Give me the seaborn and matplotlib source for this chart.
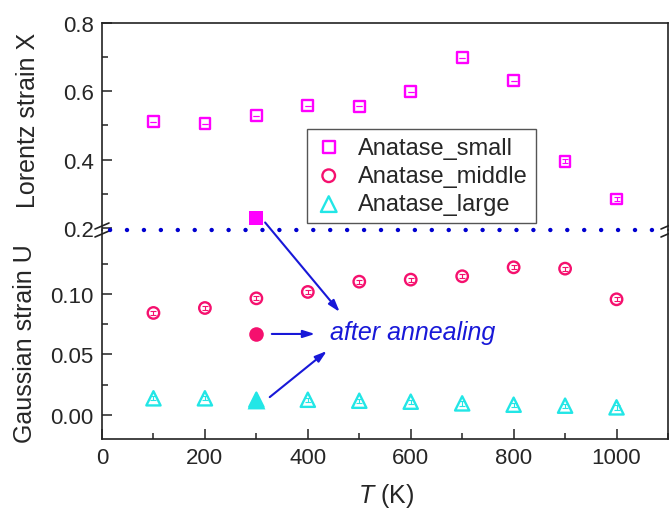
import numpy as np
import pandas as pd
import matplotlib
matplotlib.use("Agg")
import matplotlib.pyplot as plt
import seaborn as sns
from matplotlib.ticker import MultipleLocator, FixedLocator

# ---------------- data ----------------
T = [100, 200, 300, 400, 500, 600, 700, 800, 900, 1000]
lorentz_small = [0.511, 0.505, 0.529, 0.558, 0.556, 0.599, 0.698, 0.631, 0.395, 0.285]
lorentz_small_err = [0.0, 0.0, 0.0, 0.0, 0.0, 0.0, 0.0, 0.0, 0.006, 0.006]
gauss_middle = [0.0843, 0.0884, 0.0964, 0.1017, 0.1102, 0.1119, 0.1147, 0.1221, 0.1210, 0.0956]
gauss_middle_err = [0.0016] * 10
gauss_large = [0.0136, 0.0136, 0.0124, 0.0124, 0.0116, 0.0108, 0.0094, 0.0083, 0.0075, 0.0061]
gauss_large_err = [0.0018] * 10

anneal_T = [300]
anneal_small = [0.229]
anneal_middle = [0.0671]
anneal_large = [0.0124]

labels = ["Anatase_small", "Anatase_middle", "Anatase_large"]
c_small = "#FF00FF"
c_middle = "#F5106E"
c_large = "#22E6E6"
c_blue = "#1818D8"

# ---------------- style ----------------
sns.set_style("ticks")
plt.rcParams["font.family"] = ["Liberation Sans", "DejaVu Sans"]
plt.rcParams["mathtext.fontset"] = "custom"
plt.rcParams["mathtext.it"] = "Liberation Sans:italic"
plt.rcParams["mathtext.rm"] = "Liberation Sans"

W, H = 669, 510
fig = plt.figure(figsize=(W / 100, H / 100), dpi=100)

def px_axes(l, t, r, b):
    return fig.add_axes([l / W, (H - b) / H, (r - l) / W, (b - t) / H])

ax_top = px_axes(102, 24, 668, 231)
ax_bot = px_axes(102, 231, 668, 440)
for ax in (ax_top, ax_bot):
    ax.patch.set_visible(False)

df_top = pd.DataFrame({"T": T, "X": lorentz_small})
df_mid = pd.DataFrame({"T": T, "U": gauss_middle})
df_lrg = pd.DataFrame({"T": T, "U": gauss_large})

# error bars (tiny)
ax_top.errorbar(T, lorentz_small, yerr=lorentz_small_err, fmt="none",
                ecolor=c_small, elinewidth=0.8, capsize=2.5, capthick=0.8, zorder=2)
ax_bot.errorbar(T, gauss_middle, yerr=gauss_middle_err, fmt="none",
                ecolor=c_middle, elinewidth=0.8, capsize=2.5, capthick=0.8, zorder=2)
ax_bot.errorbar(T, gauss_large, yerr=gauss_large_err, fmt="none",
                ecolor=c_large, elinewidth=0.8, capsize=2.5, capthick=0.8, zorder=2)

sns.scatterplot(data=df_top, x="T", y="X", ax=ax_top, marker="s", s=60,
                facecolor="none", edgecolor=c_small, linewidth=1.7,
                label=labels[0], zorder=3, legend=False)
sns.scatterplot(data=df_mid, x="T", y="U", ax=ax_bot, marker="o", s=68,
                facecolor="none", edgecolor=c_middle, linewidth=1.7,
                label=labels[1], zorder=3, legend=False)
sns.scatterplot(data=df_lrg, x="T", y="U", ax=ax_bot, marker="^", s=105,
                facecolor="none", edgecolor=c_large, linewidth=1.7,
                label=labels[2], zorder=3, legend=False)

# after annealing (filled)
sns.scatterplot(x=anneal_T, y=anneal_small, ax=ax_top, marker="s", s=100,
                color=c_small, edgecolor=c_small, linewidth=0, zorder=3)
sns.scatterplot(x=anneal_T, y=anneal_middle, ax=ax_bot, marker="o", s=110,
                color=c_middle, edgecolor=c_middle, linewidth=0, zorder=3)
sns.scatterplot(x=anneal_T, y=anneal_large, ax=ax_bot, marker="^", s=165,
                color=c_large, edgecolor=c_large, linewidth=0, zorder=3)

for ax in (ax_top, ax_bot):
    if ax.get_legend() is not None:
        ax.get_legend().remove()

# ---------------- axes ----------------
for ax in (ax_top, ax_bot):
    ax.set_xlim(0, 1100)
    ax.set_xlabel("")
    ax.set_ylabel("")
    for sp in ax.spines.values():
        sp.set_linewidth(1.2)
        sp.set_color("#222222")

ax_top.set_ylim(0.194, 0.8)
ax_bot.set_ylim(-0.0201, 0.153)

ax_top.spines["bottom"].set_visible(False)
ax_bot.spines["top"].set_visible(False)

ax_top.yaxis.set_major_locator(FixedLocator([0.2, 0.4, 0.6, 0.8]))
ax_top.yaxis.set_minor_locator(FixedLocator([0.3, 0.5, 0.7]))
ax_top.set_yticklabels(["0.2", "0.4", "0.6", "0.8"])
ax_top.tick_params(axis="x", which="both", bottom=False, top=False, labelbottom=False)

ax_bot.yaxis.set_major_locator(FixedLocator([0.0, 0.05, 0.10]))
ax_bot.yaxis.set_minor_locator(FixedLocator([0.025, 0.075, 0.125]))
ax_bot.set_yticklabels(["0.00", "0.05", "0.10"])
ax_bot.xaxis.set_major_locator(MultipleLocator(200))
ax_bot.xaxis.set_minor_locator(MultipleLocator(100))

for ax in (ax_top, ax_bot):
    ax.tick_params(axis="both", which="major", direction="in", length=7, width=1.1,
                   labelsize=16, pad=6, color="#222222")
    ax.tick_params(axis="both", which="minor", direction="in", length=4, width=1.1,
                   color="#222222")
    ax.tick_params(axis="y", which="both", right=False)

# labels
fig.text(28 / W, 1 - 120 / H, "Lorentz strain X", rotation=90, fontsize=18,
         ha="center", va="center")
fig.text(25 / W, 1 - 344 / H, "Gaussian strain U", rotation=90, fontsize=18,
         ha="center", va="center")
fig.text(386 / W, 1 - 496 / H, r"$\mathit{T}$ (K)", fontsize=18, ha="center", va="center")

# dotted break line
ax_top.plot([0, 1], [0, 0], transform=ax_top.transAxes, color="#0000D0", lw=3.2,
            linestyle=(2, (0.01, 3.8)), dash_capstyle="round", solid_capstyle="round",
            clip_on=False, zorder=6)

# break marks
dx, dy = 7 / 566, 3 / 207
for xf in (0, 1):
    for off in (4 / 207, -4 / 207):
        ax_top.plot([xf - dx, xf + dx], [off - dy, off + dy], transform=ax_top.transAxes,
                    color="#222222", lw=1.2, clip_on=False, zorder=5)

# legend
h1, l1 = ax_top.get_legend_handles_labels()
h2, l2 = ax_bot.get_legend_handles_labels()
hd = dict(zip(l1 + l2, h1 + h2))
leg = ax_top.legend([hd[k] for k in labels], labels, loc="upper left",
                    bbox_to_anchor=(307 / W, 1 - 130 / H), bbox_transform=fig.transFigure,
                    fontsize=17, frameon=True, fancybox=False, edgecolor="#555555",
                    framealpha=1, borderpad=0.32, labelspacing=0.27, handletextpad=0.65,
                    handlelength=1.2, borderaxespad=0, markerscale=1.1)
leg.get_frame().set_linewidth(1.0)

# arrows & annotation
arrow_kw = dict(arrowstyle="-|>,head_length=0.7,head_width=0.22", color=c_blue, lw=1.5,
                shrinkA=0, shrinkB=0)
ax_bot.annotate("", xy=(462, 0.0851), xycoords="data",
                xytext=(317, 0.216), textcoords=ax_top.transData, arrowprops=arrow_kw)
ax_bot.annotate("", xy=(414, 0.0669), xytext=(330, 0.0669), arrowprops=arrow_kw)
ax_bot.annotate("", xy=(437, 0.0528), xytext=(326, 0.0146), arrowprops=arrow_kw)
ax_bot.text(443, 0.0684, "after annealing", color=c_blue, fontsize=18,
            style="italic", ha="left", va="center")

fig.savefig("out.png", dpi=100)
